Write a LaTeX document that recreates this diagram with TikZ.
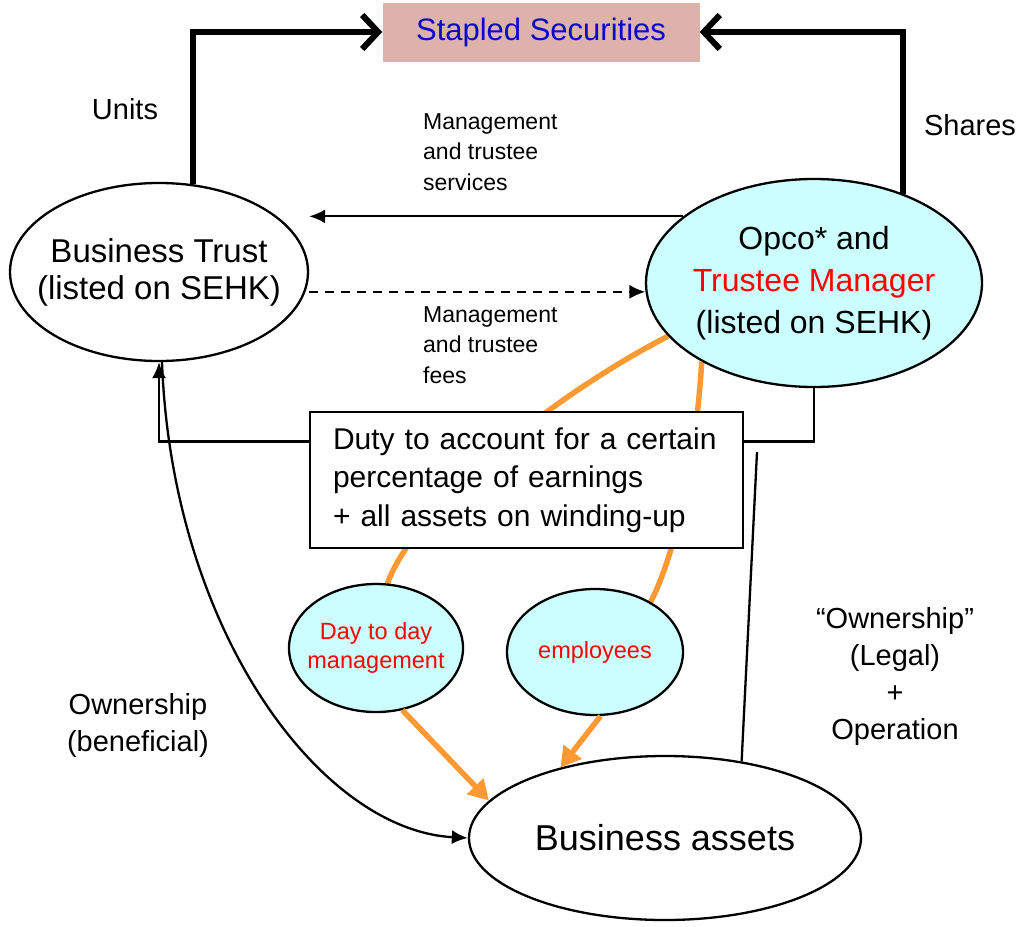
\documentclass[tikz,border=0pt]{standalone}
\usepackage{fontspec}
\setmainfont{Liberation Sans}
\usepackage{tikz}
\usetikzlibrary{calc, shapes.geometric, arrows.meta}
\pgfdeclarelayer{background}
\pgfsetlayers{background,main}
\definecolor{stapledpink}{RGB}{220,178,170}
\definecolor{stapledblue}{RGB}{10,10,200}
\definecolor{bubblecyan}{RGB}{204,255,255}
\definecolor{dutyorange}{RGB}{255,153,51}
\definecolor{labelred}{RGB}{255,0,0}
\tikzstyle{thinarrow}   = [line width=2.3pt,-{Latex[length=16pt,width=14pt]}]
\tikzstyle{heavyarrow}  = [line width=6pt,-{Straight Barb[length=16pt,width=34pt]}]
\tikzstyle{orangeline}  = [dutyorange,line width=5.5pt]
\tikzstyle{orangearrow} = [dutyorange,line width=5.5pt,-{Triangle[length=20pt,width=22pt]}]
\tikzstyle{bubble}      = [ellipse,draw,line width=2.3pt,inner sep=-40pt,align=center]
\tikzstyle{note}        = [inner sep=0pt,align=center,font=\fontsize{29}{37}\selectfont]
\tikzstyle{smallnote}   = [inner sep=0pt,align=left,anchor=west,font=\fontsize{23}{30.5}\selectfont]

\begin{document}
\begin{tikzpicture}[x=1pt,y=-1pt]
  \useasboundingbox (0,0) rectangle (1024,926);

  %the stapled securities on top
  \node[fill=stapledpink,minimum width=317pt,minimum height=59pt,inner sep=0pt,
        text=stapledblue,font=\fontsize{31}{37}\selectfont] (ss) at (541,32)
    {Stapled Securities\hspace{14pt}};

  %the two listed entities
  \node[bubble,minimum width=298pt,minimum height=178pt,font=\fontsize{33}{37}\selectfont]
    (bt) at (159,272) {Business Trust\\(listed on SEHK)};
  \node[bubble,fill=bubblecyan,minimum width=336pt,minimum height=208pt,font=\fontsize{32}{42}\selectfont]
    (opco) at (814,283) {Opco* and\\\textcolor{labelred}{Trustee Manager}\\(listed on SEHK)};

  %duty box in the middle
  \node[draw,fill=white,line width=2.3pt,text width=387pt,inner xsep=23pt,minimum height=136pt,
        align=left,font=\fontsize{30}{38.5}\selectfont] (duty) at (526.5,480)
    {Duty to account for a certain\\percentage of earnings\\+ all assets on winding-up};

  %lower bubbles
  \node[bubble,fill=bubblecyan,minimum width=174pt,minimum height=128pt,text=labelred,
        font=\fontsize{23.5}{29}\selectfont] (day) at (376,648) {Day to day\\management};
  \node[bubble,fill=bubblecyan,minimum width=176pt,minimum height=126pt,text=labelred,
        font=\fontsize{23.5}{29}\selectfont] (emp) at (595,652) {employees};
  \node[bubble,minimum width=392pt,minimum height=164pt,font=\fontsize{36}{40}\selectfont]
    (assets) at (665,838) {Business assets};

  %labels
  \node[note] (units) at (125,109) {Units};
  \node[note] (shares) at (970,125) {Shares};
  \node[smallnote] (services) at (423,152) {Management\\and trustee\\services};
  \node[smallnote] (fees) at (423,345) {Management\\and trustee\\fees};
  \node[note] (legal) at (895,676) {“Ownership”\\(Legal)\\+\\Operation};
  \node[note] (beneficial) at (138,725) {Ownership\\(beneficial)};

  %units and shares
  \draw[heavyarrow] (bt.69) |- (ss.west);
  \draw[heavyarrow] (opco.45) |- (ss.east);

  %services and fees
  \draw[thinarrow] (opco.153) -- (opco.153 -| bt.east);
  \draw[thinarrow,dash pattern=on 9pt off 7pt] (bt.east |- opco.-177) -- (opco.-177);

  %duty to account
  \draw[thinarrow] (duty.170) -| (bt.south);
  \draw[line width=2.3pt] (duty.10) -| (opco.south);

  %ownership
  \draw[thinarrow] ([xshift=3pt]bt.south) .. controls (172,630) and (320,830) .. (assets.west);
  \coordinate (legaltop) at (757,452);
  \draw[line width=2.3pt] (legaltop) -- (assets.45);

  %orange links
  \begin{pgfonlayer}{background}
    \draw[orangeline] (opco.200) .. controls (541,402) and (414,511) .. (day.80);
    \draw[orangeline] (opco.-145) .. controls (696,460) and (675,555) .. (emp.42);
  \end{pgfonlayer}
  \draw[orangearrow] (day.-67) -- (assets.168);
  \draw[orangearrow] (emp.-85) -- (assets.146);
\end{tikzpicture}
\end{document}
